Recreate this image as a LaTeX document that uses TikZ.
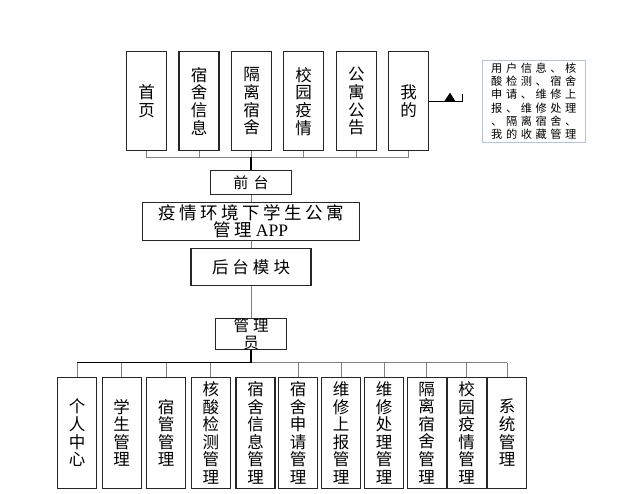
\documentclass[tikz,border=0pt]{standalone}
\usepackage{fontspec}
\setmainfont{Noto Sans CJK SC}
\newfontfamily\latinserif{Liberation Serif}
\newcommand\lsp[2]{\def\lspamt{#1}\lspx#2\relax}
\def\lspx#1{\ifx#1\relax\unskip\else#1\hspace{\lspamt}\expandafter\lspx\fi}
\begin{document}
\begin{tikzpicture}[x=1pt,y=-1pt,
  box/.style={draw=black!85,line width=1.1pt,inner sep=0pt,fill=white},
  vbox/.style={box,minimum width=39pt,minimum height=110.8pt,align=center,font=\fontsize{16.5}{17.6}\selectfont},
  tbox/.style={box,minimum width=40pt,minimum height=99.3pt,align=center,font=\fontsize{16.5}{17.7}\selectfont},
  thinl/.style={draw=gray,line width=0.9pt},
  thickl/.style={draw=black,line width=1.8pt}]
\useasboundingbox (0,0) rectangle (617,494);
% top boxes
\node[tbox] (t1) at (146.7,101.3) {首\\页};
\node[tbox] (t2) at (199,101.3) {宿\\舍\\信\\息};
\node[tbox] (t3) at (251.5,101.3) {隔\\离\\宿\\舍};
\node[tbox] (t4) at (303.5,101.3) {校\\园\\疫\\情};
\node[tbox] (t5) at (356.3,101.3) {公\\寓\\公\\告};
\node[tbox] (t6) at (408.5,101.3) {我\\的};
% middle boxes
\node[box,minimum width=80.8pt,minimum height=23.5pt,font=\fontsize{15}{18}\selectfont] (qt) at (251,182.3) {\lsp{5.5pt}{前台}};
\node[box,minimum width=216.6pt,minimum height=37.3pt,align=center,font=\fontsize{17.5}{17.6}\selectfont] (title) at (251,221.4) {\lsp{3.5pt}{疫情环境下学生公寓}\\\lsp{3.5pt}{管理}\hspace{3.5pt}{\latinserif APP}};
\node[box,minimum width=120pt,minimum height=37pt,font=\fontsize{16.5}{18}\selectfont] (ht) at (251,266.8) {\lsp{4pt}{后台模块}};
\node[box,minimum width=71.7pt,minimum height=28.3pt,align=center,font=\fontsize{15.5}{16.7}\selectfont] (gly) at (251,334.2) {\lsp{4pt}{管理}\\员};
% bottom boxes
\node[vbox] (b1) at (77.2,432.9) {个\\人\\中\\心};
\node[vbox] (b2) at (121.7,432.9) {学\\生\\管\\理};
\node[vbox] (b3) at (166.2,432.9) {宿\\管\\管\\理};
\node[vbox] (b4) at (210.8,432.9) {核\\酸\\检\\测\\管\\理};
\node[vbox] (b5) at (255.5,432.9) {宿\\舍\\信\\息\\管\\理};
\node[vbox] (b6) at (298,432.9) {宿\\舍\\申\\请\\管\\理};
\node[vbox] (b7) at (341.2,432.9) {维\\修\\上\\报\\管\\理};
\node[vbox] (b8) at (384.2,432.9) {维\\修\\处\\理\\管\\理};
\node[vbox] (b9) at (426.7,432.9) {隔\\离\\宿\\舍\\管\\理};
\node[vbox] (b10) at (466.7,432.9) {校\\园\\疫\\情\\管\\理};
\node[vbox] (b11) at (507.2,432.9) {系\\统\\管\\理};
% note
\node[draw={rgb,255:red,185;green,195;blue,210},line width=0.8pt,fill=white,minimum width=102.3pt,minimum height=81.3pt,inner sep=0pt,align=left,font=\fontsize{11.2}{13.3}\selectfont] (note) at (533.8,101.3)
 {\lsp{3.6pt}{用户信息、核}\\\lsp{3.6pt}{酸检测、宿舍}\\\lsp{3.6pt}{申请、维修上}\\\lsp{3.6pt}{报、维修处理}\\\lsp{3.6pt}{、隔离宿舍、}\\\lsp{3.6pt}{我的收藏管理}};
% top bus
\coordinate (topbus) at (0,157.3);
\draw[thinl] (t1.south) -- (t1.south |- topbus) -- (t6.south |- topbus) -- (t6.south);
\foreach \n in {t2,t3,t4,t5} \draw[thinl] (\n.south) -- (\n.south |- topbus);
\draw[thickl] (qt.north |- topbus) -- (qt.north);
% middle chain
\draw[thinl] (qt.south) -- (title.north);
\draw[thinl] (title.south) -- (ht.north);
\draw[thinl] (ht.south) -- (gly.north);
% bottom bus
\coordinate (botbus) at (0,362.5);
\draw[thinl] (gly.south |- botbus) -- (b11.north |- botbus);
\draw[thickl] (gly.south) -- (gly.south |- botbus) -- (b1.north |- botbus);
\foreach \n in {b1,b2,b3,b4,b6,b7,b8,b9,b10,b11} \draw[thinl] (\n.north |- botbus) -- (\n.north);
% callout from 我的
\coordinate (ce) at (462.7,101.7);
\draw[black,line width=1pt] (t6.east |- ce) -- (ce) -- ++(0,-7.7);
\fill[black] (444,101.7) -- (450,92.7) -- (455.7,101.7) -- cycle;
\end{tikzpicture}
\end{document}
